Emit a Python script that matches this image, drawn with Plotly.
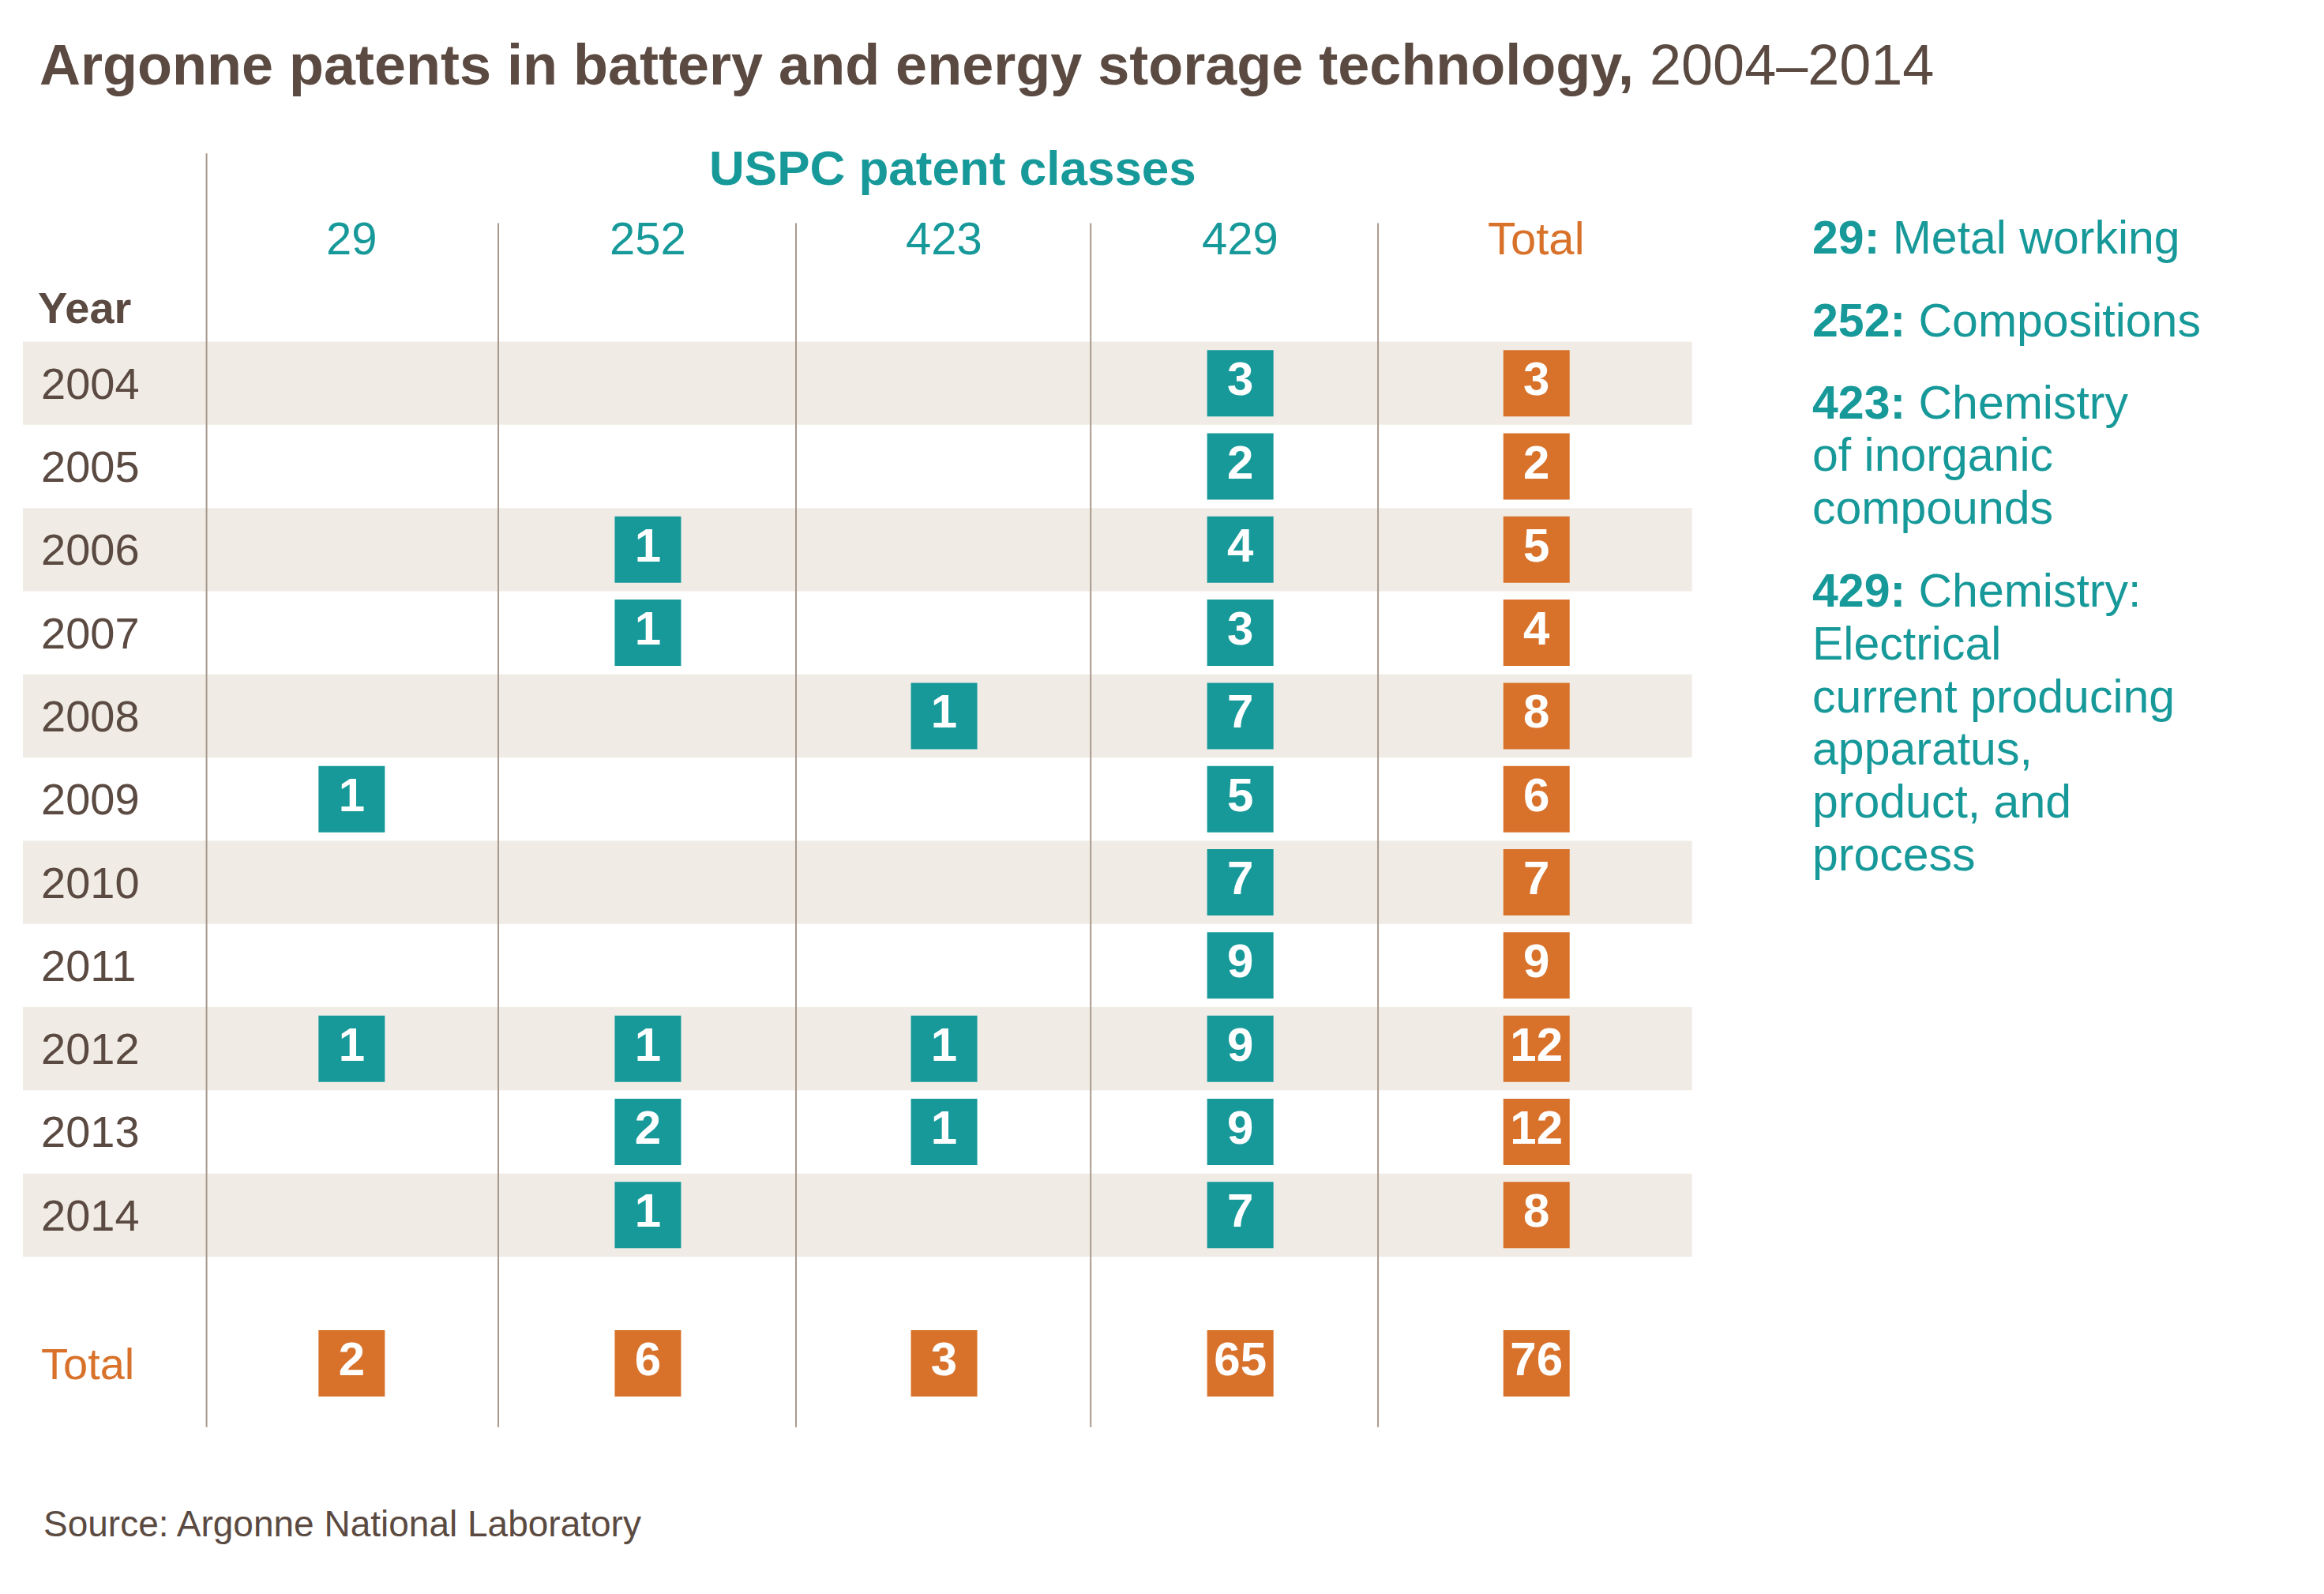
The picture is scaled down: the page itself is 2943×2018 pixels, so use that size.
import plotly.graph_objects as go

# ---- data ----
years = ["2004", "2005", "2006", "2007", "2008", "2009", "2010", "2011", "2012", "2013", "2014"]
classes = ["29", "252", "423", "429"]
c29 = [None, None, None, None, None, 1, None, None, 1, None, None]
c252 = [None, None, 1, 1, None, None, None, None, 1, 2, 1]
c423 = [None, None, None, None, 1, None, None, None, 1, 1, None]
c429 = [3, 2, 4, 3, 7, 5, 7, 9, 9, 9, 7]
row_total = [3, 2, 5, 4, 8, 6, 7, 9, 12, 12, 8]
col_total = [2, 6, 3, 65, 76]
legend_items = [
    ("29:", ["Metal working"]),
    ("252:", ["Compositions"]),
    ("423:", ["Chemistry", "of inorganic", "compounds"]),
    ("429:", ["Chemistry:", "Electrical", "current producing", "apparatus,", "product, and", "process"]),
]

TEAL = "#17999a"
ORANGE = "#d8722b"
BROWN = "#5b4a41"
STRIPE = "#f0ece5"
FONT = "Liberation Sans"

# reference sketch pixel -> data units
def px(x):
    return (x - 37) / 200.0

def py(y):
    return (258 - y) / 56.1

row_y = [-i for i in range(len(years))]
total_y = py(919)

fig = go.Figure()

shapes = []
for i, y in enumerate(row_y):
    if i % 2 == 0:
        shapes.append(dict(type="rect", xref="x", yref="y", x0=px(15), x1=px(1142),
                           y0=y - 0.5, y1=y + 0.5, fillcolor=STRIPE, line_width=0, layer="below"))
for i, xv in enumerate([139, 336, 537, 736, 930]):
    top = py(103) if i == 0 else py(150)
    shapes.append(dict(type="line", xref="x", yref="y", x0=px(xv), x1=px(xv),
                       y0=top, y1=py(962), line=dict(color="#a8998e", width=2)))


def badges(xs_all, vals, ys, color):
    xs, yy, tx = [], [], []
    for xv, v, y in zip(xs_all, vals, ys):
        if v is not None:
            xs.append(xv); yy.append(y); tx.append(str(v))
    fig.add_trace(go.Scatter(
        x=xs, y=yy, text=tx, mode="markers+text",
        marker=dict(symbol="square", size=84, color=color, line_width=0),
        textfont=dict(family=FONT, size=60, color="white", weight="bold"),
        textposition="middle center", hoverinfo="skip", showlegend=False))


n = len(years)
for k, vals in enumerate([c29, c252, c423, c429]):
    badges([k + 1] * n, vals, row_y, TEAL)
badges([5] * n, row_total, row_y, ORANGE)
badges(list(range(1, 6)), col_total, [total_y] * 5, ORANGE)

ann = []
for y, yr in zip(row_y, years):
    ann.append(dict(x=px(26), y=y, text=yr, xanchor="left", showarrow=False,
                    font=dict(family=FONT, size=56, color=BROWN)))
ann.append(dict(x=px(26), y=total_y, text="Total", xanchor="left", showarrow=False,
                font=dict(family=FONT, size=56, color=ORANGE)))
ann.append(dict(x=px(24), y=py(207), text="<b>Year</b>", xanchor="left", showarrow=False,
                font=dict(family=FONT, size=56, color=BROWN)))
for k, c in enumerate(classes):
    ann.append(dict(x=k + 1, y=py(160), text=c, showarrow=False,
                    font=dict(family=FONT, size=58, color=TEAL)))
ann.append(dict(x=5, y=py(160), text="Total", showarrow=False,
                font=dict(family=FONT, size=58, color=ORANGE)))
ann.append(dict(x=px(643), y=py(113), text="<b>USPC patent classes</b>", showarrow=False,
                font=dict(family=FONT, size=62, color=TEAL)))
ann.append(dict(x=px(25), y=py(43), xanchor="left", showarrow=False,
                text="<b>Argonne patents in battery and energy storage technology,</b> 2004\u20132014",
                font=dict(family=FONT, size=72, color=BROWN)))
ann.append(dict(x=px(28), y=py(1027), xanchor="left", showarrow=False,
                text="Source: Argonne National Laboratory",
                font=dict(family=FONT, size=46, color=BROWN)))
# legend, one annotation per line
for (key, lines), first in zip(legend_items, [160, 216, 271, 398]):
    for j, line in enumerate(lines):
        txt = f"<b>{key}</b> {line}" if j == 0 else line
        ann.append(dict(x=px(1222), y=py(first + 35.6 * j), xanchor="left", align="left",
                        showarrow=False, text=txt,
                        font=dict(family=FONT, size=59, color=TEAL)))

fig.update_layout(
    width=2943, height=2018, margin=dict(l=0, r=0, t=0, b=0),
    paper_bgcolor="white", plot_bgcolor="white",
    xaxis=dict(range=[px(3.8), px(1573)], visible=False, fixedrange=True),
    yaxis=dict(range=[py(1078.8), py(3.8)], visible=False, fixedrange=True),
    shapes=shapes, annotations=ann,
)

fig.write_html("out.html")
